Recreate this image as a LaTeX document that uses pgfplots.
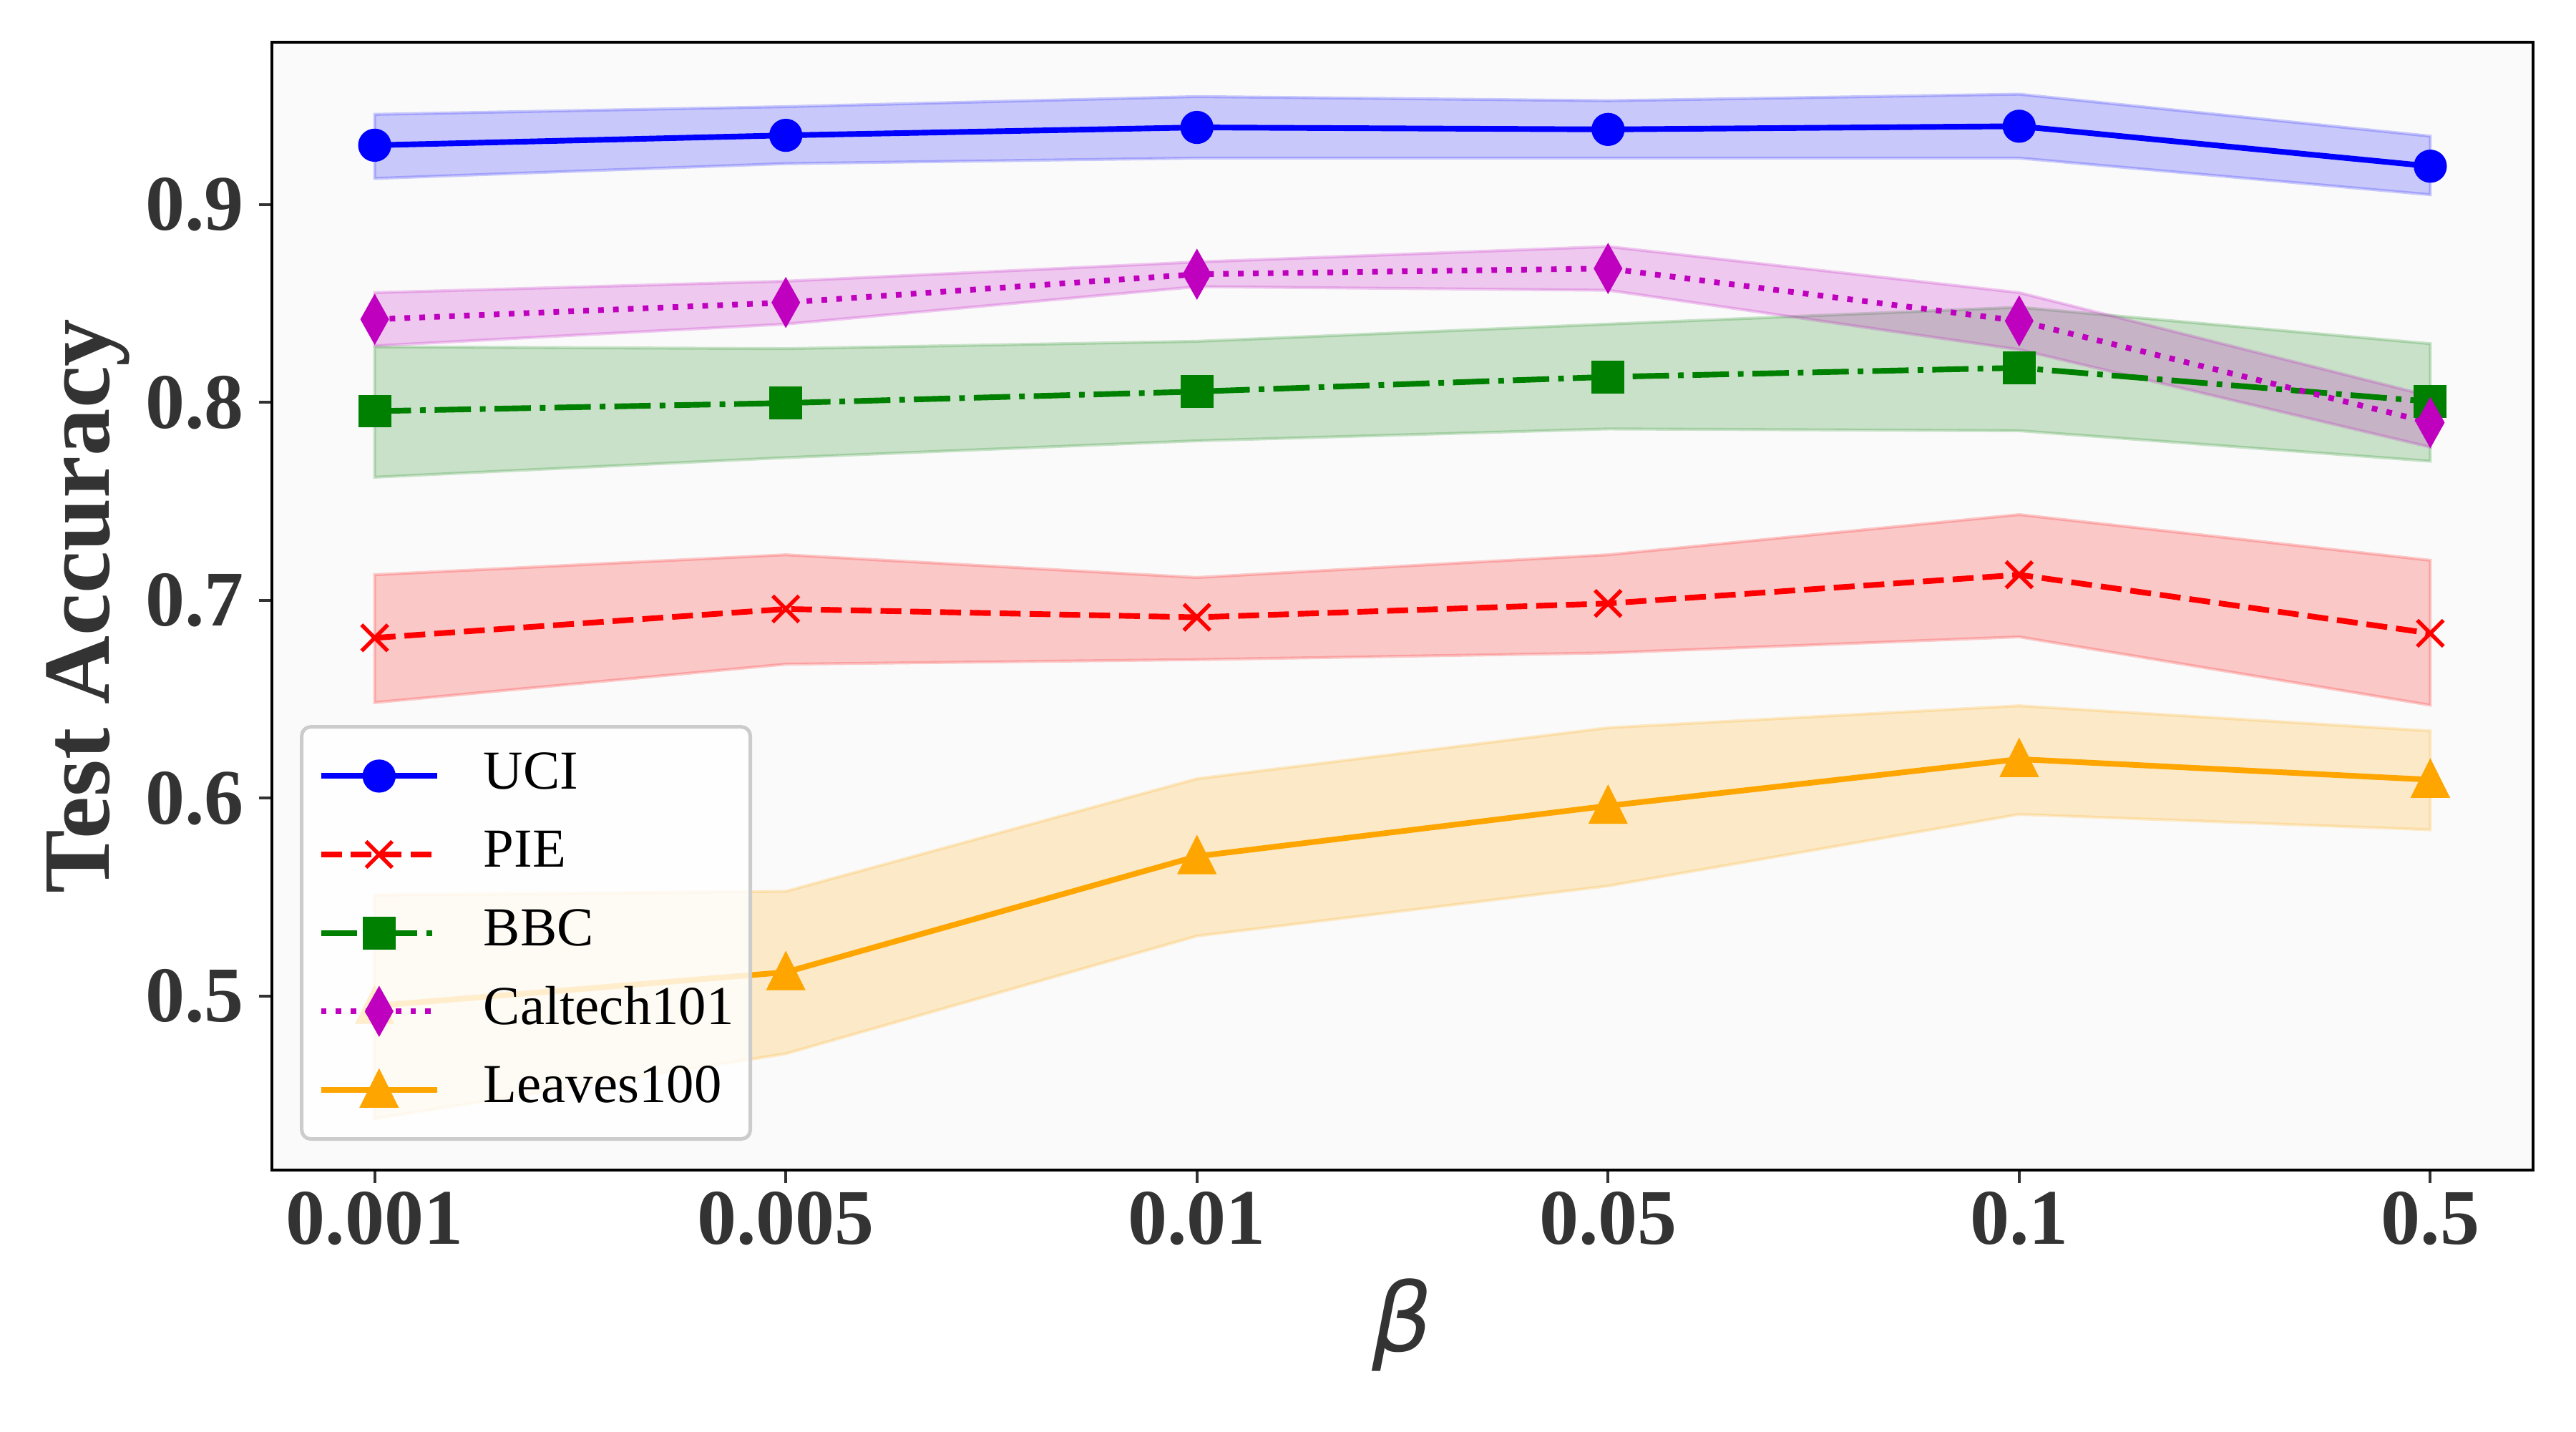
\documentclass[border=0pt]{standalone}
\usepackage{fontspec}
\setmainfont{Liberation Serif}
\newfontfamily\dejavu{DejaVu Sans}
\usepackage{pgfplots}
\pgfplotsset{compat=1.18}
\usepackage{pgfplotstable}
\usepgfplotslibrary{fillbetween}
\definecolor{mpmag}{rgb}{0.75,0,0.75}
\definecolor{mporange}{rgb}{1,0.647,0}
\definecolor{mpgreen}{rgb}{0,0.5,0}
\definecolor{tickgray}{HTML}{333333}

\pgfplotstableread{
x m lo hi
0 0.9300 0.9132 0.9456
1 0.9350 0.9207 0.9495
2 0.9390 0.9235 0.9546
3 0.9380 0.9235 0.9525
4 0.9396 0.9235 0.9558
5 0.9194 0.9050 0.9346
}\uci
\pgfplotstableread{
x m lo hi
0 0.6810 0.6483 0.7129
1 0.6956 0.6677 0.7230
2 0.6914 0.6700 0.7115
3 0.6984 0.6734 0.7230
4 0.7129 0.6815 0.7433
5 0.6833 0.6470 0.7202
}\pie
\pgfplotstableread{
x m lo hi
0 0.7956 0.7622 0.8281
1 0.7997 0.7721 0.8272
2 0.8055 0.7806 0.8309
3 0.8129 0.7866 0.8396
4 0.8175 0.7857 0.8481
5 0.8004 0.7703 0.8297
}\bbc
\pgfplotstableread{
x m lo hi
0 0.8420 0.8286 0.8555
1 0.8505 0.8396 0.8613
2 0.8648 0.8585 0.8710
3 0.8677 0.8567 0.8788
4 0.8412 0.8267 0.8555
5 0.7898 0.7774 0.8032
}\caltech
\pgfplotstableread{
x m lo hi
0 0.4950 0.4380 0.5510
1 0.5120 0.4708 0.5529
2 0.5706 0.5303 0.6098
3 0.5961 0.5556 0.6356
4 0.6197 0.5918 0.6467
5 0.6093 0.5840 0.6340
}\leaves

\begin{document}
\begin{tikzpicture}
\begin{axis}[
  at={(0,0)}, anchor=south west,
  scale only axis, width=758.4bp, height=378.2bp,
  xmin=-0.25, xmax=5.25, ymin=0.412, ymax=0.982,
  xtick={0,1,2,3,4,5}, xticklabels={0.001,0.005,0.01,0.05,0.1,0.5},
  ytick={0.5,0.6,0.7,0.8,0.9}, yticklabels={0.5,0.6,0.7,0.8,0.9},
  xtick pos=bottom, ytick pos=left, tick align=outside,
  major tick length=4.2bp,
  every tick/.style={tickgray, line width=1bp},
  axis line style={black, line width=1.1bp},
  axis background/.style={fill=black!2},
  ticklabel style={font=\rmfamily\bfseries\fontsize{26.5}{30}\selectfont, text=tickgray, inner sep=0pt},
  xticklabel style={yshift=-3bp},
  yticklabel style={xshift=-5bp},
  xlabel={\dejavu\itshape β},
  ylabel={Test Accuracy},
  every axis x label/.style={at={(axis description cs:0.5,-0.161)}, anchor=base, font=\fontsize{32}{36}\selectfont, text=tickgray},
  every axis y label/.style={at={(axis description cs:-0.0719,0.5)}, rotate=90, anchor=base, font=\rmfamily\bfseries\fontsize{32}{36}\selectfont, text=tickgray},
  legend style={at={(0.0124,0.026)}, anchor=south west, draw=black!20, line width=1.2bp,
    rounded corners=3bp, fill=white, fill opacity=0.8, draw opacity=1, text opacity=1,
    font=\rmfamily\fontsize{18.5}{22}\selectfont, inner xsep=5.5bp, inner ysep=8bp, row sep=9.3bp,
    column sep=0bp,
    nodes={inner sep=0pt, text height=12.8bp, text depth=4.2bp}},
  legend cell align=left,
  every legend image post/.append style={fill opacity=1, draw opacity=1},
  legend image code/.code={\draw[mark repeat=2,mark phase=2,#1] plot coordinates {(0bp,0bp) (19.5bp,0bp) (39bp,0bp)};},
  /tikz/every odd column/.append style={column sep=14.6bp},
]
% UCI
\addplot[blue, line width=1.9bp, mark=*, mark size=4.6bp, mark options={solid, fill=blue}] table[x=x,y=m]{\uci};
\addlegendentry{UCI}
\addplot[draw=none, forget plot, name path=uciU] table[x=x,y=hi]{\uci};
\addplot[draw=none, forget plot, name path=uciL] table[x=x,y=lo]{\uci};
\addplot[fill=blue, fill opacity=0.2, draw=blue, draw opacity=0.2, line width=1bp, forget plot] fill between[of=uciU and uciL];
% PIE
\addplot[red, line width=1.9bp, dash pattern=on 7bp off 3bp, mark=x, mark size=6.2bp, mark options={solid, line width=1.3bp}] table[x=x,y=m]{\pie};
\addlegendentry{PIE}
\addplot[draw=none, forget plot, name path=pieU] table[x=x,y=hi]{\pie};
\addplot[draw=none, forget plot, name path=pieL] table[x=x,y=lo]{\pie};
\addplot[fill=red, fill opacity=0.2, draw=red, draw opacity=0.2, line width=1bp, forget plot] fill between[of=pieU and pieL];
% BBC
\addplot[mpgreen, line width=1.9bp, dash pattern=on 12.2bp off 3bp on 1.9bp off 3bp, mark=square*, mark size=4.55bp, mark options={solid, fill=mpgreen}] table[x=x,y=m]{\bbc};
\addlegendentry{BBC}
\addplot[draw=none, forget plot, name path=bbcU] table[x=x,y=hi]{\bbc};
\addplot[draw=none, forget plot, name path=bbcL] table[x=x,y=lo]{\bbc};
\addplot[fill=mpgreen, fill opacity=0.2, draw=mpgreen, draw opacity=0.2, line width=1bp, forget plot] fill between[of=bbcU and bbcL];
% Caltech101
\addplot[mpmag, line width=1.9bp, dash pattern=on 1.9bp off 3.1bp, mark=diamond*, mark size=6.65bp, mark options={solid, fill=mpmag, xscale=0.747}] table[x=x,y=m]{\caltech};
\addlegendentry{Caltech101}
\addplot[draw=none, forget plot, name path=calU] table[x=x,y=hi]{\caltech};
\addplot[draw=none, forget plot, name path=calL] table[x=x,y=lo]{\caltech};
\addplot[fill=mpmag, fill opacity=0.2, draw=mpmag, draw opacity=0.2, line width=1bp, forget plot] fill between[of=calU and calL];
% Leaves100
\addplot[mporange, line width=1.9bp, mark=triangle*, mark size=6.8bp, mark options={solid, fill=mporange, xscale=0.866, yshift=-1.7bp}] table[x=x,y=m]{\leaves};
\addlegendentry{Leaves100}
\addplot[draw=none, forget plot, name path=leaU] table[x=x,y=hi]{\leaves};
\addplot[draw=none, forget plot, name path=leaL] table[x=x,y=lo]{\leaves};
\addplot[fill=mporange, fill opacity=0.2, draw=mporange, draw opacity=0.2, line width=1bp, forget plot] fill between[of=leaU and leaL];
\end{axis}
\pgfresetboundingbox
\path[use as bounding box] (-91.2bp,-87.6bp) rectangle (772.8bp,392.4bp);
\end{tikzpicture}
\end{document}
